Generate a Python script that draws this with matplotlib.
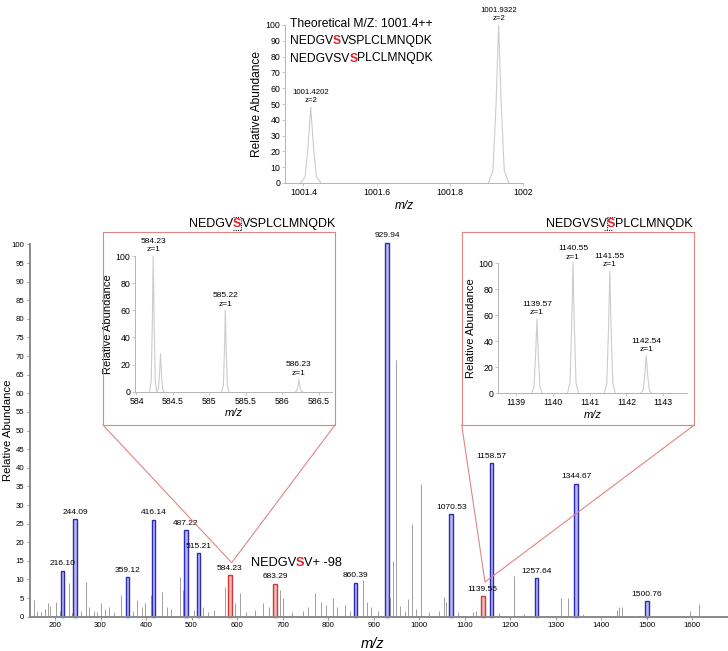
import matplotlib
matplotlib.use("Agg")
import matplotlib.pyplot as plt
from matplotlib.transforms import IdentityTransform
from matplotlib.lines import Line2D

plt.rcParams['font.family'] = ['Liberation Sans', 'DejaVu Sans']

W, H = 728, 651

# ---------------- data ----------------
blue_mz = [216.10, 244.09, 359.12, 416.14, 487.22, 515.21, 860.39, 929.94,
           1070.53, 1158.57, 1257.64, 1344.67, 1500.76]
blue_int = [12.3, 26.2, 10.6, 26.0, 23.2, 17.1, 9.1, 100.5,
            27.5, 41.2, 10.3, 35.7, 4.1]
red_mz = [584.23, 683.29, 1139.55]
red_int = [11.1, 8.9, 5.5]

noise_mz = [153, 160, 170, 178, 185, 190, 203, 212, 231, 238, 258, 267.5, 275, 285,
            292, 302, 310, 318, 330, 346, 357, 372, 379, 390, 398, 410, 434, 445,
            455, 474, 482, 492, 505, 525, 535, 550, 573, 588, 595, 606, 620, 639,
            657, 670, 680, 694, 700, 720, 745, 756, 771, 785, 795, 811, 820, 838,
            848, 877, 885, 895, 910, 924.6, 935, 943, 950, 958, 968, 976, 985, 992,
            1003.8, 1021, 1043, 1055, 1060, 1085, 1118, 1125, 1175, 1208, 1230,
            1311, 1327, 1360, 1434, 1440, 1446, 1595, 1614]
noise_int = [4.5, 1.5, 1.2, 2.0, 3.6, 3.0, 4.0, 1.5, 9.0, 1.0, 1.5, 9.4, 2.7, 1.5,
             1.2, 3.6, 2.0, 2.7, 1.2, 5.8, 2.7, 1.5, 4.5, 2.7, 3.6, 5.8, 6.7, 2.7,
             2.2, 10.7, 7.2, 2.7, 1.8, 2.7, 1.3, 1.8, 8.0, 2.0, 3.6, 6.3, 1.3, 1.8,
             3.6, 2.7, 1.5, 7.2, 4.9, 1.2, 1.5, 2.7, 6.3, 4.0, 3.1, 4.9, 2.7, 3.1,
             1.5, 9.9, 4.0, 2.7, 1.5, 12.0, 5.0, 15.0, 69.0, 3.0, 1.5, 4.7, 25.0, 2.0,
             35.6, 1.2, 1.5, 5.3, 4.0, 1.2, 1.3, 1.6, 1.0, 11.0, 0.8,
             4.9, 4.9, 0.8, 1.8, 2.7, 2.7, 1.6, 3.4]

main_xticks = list(range(200, 1700, 100))
main_yticks = list(range(0, 105, 5))

# top inset (precursor)
prec_mz = [1001.4202, 1001.9322]
prec_int = [48, 100]
prec_labels = ["1001.4202\nz=2", "1001.9322\nz=2"]
prec_xticks = [1001.4, 1001.6, 1001.8, 1002.0]
prec_xticklabels = ["1001.4", "1001.6", "1001.8", "1002"]

# left inset
l_mz = [584.23, 584.33, 585.22, 586.23]
l_int = [100, 28, 60, 9]
l_labels = ["584.23\nz=1", None, "585.22\nz=1", "586.23\nz=1"]
l_xticks = [584, 584.5, 585, 585.5, 586, 586.5]
l_xticklabels = ["584", "584.5", "585", "585.5", "586", "586.5"]

# right inset
r_mz = [1139.57, 1140.55, 1141.55, 1142.54]
r_int = [57, 100, 94, 29]
r_labels = ["1139.57\nz=1", "1140.55\nz=1", "1141.55\nz=1", "1142.54\nz=1"]
r_xticks = [1139, 1140, 1141, 1142, 1143]
r_xticklabels = ["1139", "1140", "1141", "1142", "1143"]

# ---------------- styles ----------------
BLUE_E, BLUE_F = '#2b2bb3', '#b8b8f0'
RED_E, RED_F = '#cc3a3a', '#f2b8b8'
GREY = '#8f8f8f'
BOXRED = '#e08585'
SRED = '#e3202a'


def fr(x0, y0, x1, y1):
    """pixel box (top-left origin) -> figure fraction rect"""
    return [x0 / W, 1 - y1 / H, (x1 - x0) / W, (y1 - y0) / H]


fig = plt.figure(figsize=(W / 100, H / 100), dpi=100)
renderer = fig.canvas.get_renderer()

# ---------------- main spectrum ----------------
ax = fig.add_axes(fr(30, 244.4, 728.7, 616.7))
ax.vlines(noise_mz, 0, noise_int, color=GREY, lw=0.6, zorder=1)
ax.bar(blue_mz, blue_int, width=8, color=BLUE_F, edgecolor=BLUE_E, lw=1.0,
       zorder=2, clip_on=False)
ax.bar(red_mz, red_int, width=8, color=RED_F, edgecolor=RED_E, lw=1.0,
       zorder=2, clip_on=False)
for m, v in zip(blue_mz + red_mz, blue_int + red_int):
    ax.annotate(f"{m:.2f}", (m, v), xytext=(0, 2.5), textcoords='offset points',
                ha='center', va='bottom', fontsize=6, annotation_clip=False)
ax.set_xlim(145, 1680)
ax.set_ylim(0, 100)
ax.set_xticks(main_xticks)
ax.set_yticks(main_yticks)
ax.tick_params(axis='both', labelsize=5.6, length=2, width=0.6, color='#888888',
               pad=2)
for s in ['top', 'right']:
    ax.spines[s].set_visible(False)
for s in ['left', 'bottom']:
    ax.spines[s].set_color('#8a8a8a')
    ax.spines[s].set_linewidth(1.4)
ax.set_xlabel('m/z', fontsize=10.5, style='italic')
ax.xaxis.set_label_coords((373 - 30) / 698.7, (616.7 - 637.5) / 372.3)
ax.set_ylabel('Relative Abundance', fontsize=8.2)
ax.yaxis.set_label_coords((13.5 - 30) / 698.7, 0.5)
ax.patch.set_alpha(0)


def style_inset(a, xt, xtl, yt, fs_tick=6.3, fs_lab=8):
    a.set_xticks(xt)
    a.set_xticklabels(xtl)
    a.set_yticks(yt)
    a.set_ylim(0, 100)
    a.tick_params(axis='both', labelsize=fs_tick, length=2, width=0.5,
                  color='#b0b0b0', pad=1.5)
    for s in ['top', 'right']:
        a.spines[s].set_visible(False)
    for s in ['left', 'bottom']:
        a.spines[s].set_color('#b5b5b5')
        a.spines[s].set_linewidth(0.7)
    a.set_xlabel('m/z', fontsize=fs_lab, style='italic', labelpad=2)
    a.set_ylabel('Relative Abundance', fontsize=fs_lab, labelpad=2)
    a.patch.set_alpha(0)


def draw_profiles(a, mzs, ints, labels, hw, fs=6):
    for m, v, lab in zip(mzs, ints, labels):
        a.plot([m - hw, m - hw * 0.55, m - hw * 0.25, m, m + hw * 0.25,
                m + hw * 0.55, m + hw],
               [0, v * 0.08, v * 0.5, v, v * 0.5, v * 0.08, 0],
               color='#cccccc', lw=0.8, clip_on=False)
        if lab:
            a.annotate(lab, (m, v), xytext=(0, 2), textcoords='offset points',
                       ha='center', va='bottom', fontsize=fs, linespacing=1.25,
                       annotation_clip=False)


# ---------------- top inset ----------------
axt = fig.add_axes(fr(285, 25, 523.5, 183))
draw_profiles(axt, prec_mz, prec_int, prec_labels, 0.028, fs=5.6)
axt.set_xlim(1001.35, 1002.0)
style_inset(axt, prec_xticks, prec_xticklabels, list(range(0, 101, 10)),
            fs_tick=6.3, fs_lab=8.6)

# ---------------- left inset ----------------
axl = fig.add_axes(fr(135, 256, 331.7, 391.7))
draw_profiles(axl, l_mz, l_int, l_labels, 0.05)
axl.set_xlim(583.98, 586.68)
style_inset(axl, l_xticks, l_xticklabels, list(range(0, 101, 20)), fs_lab=8)

# ---------------- right inset ----------------
axr = fig.add_axes(fr(498.3, 263.3, 686.7, 393.3))
draw_profiles(axr, r_mz, r_int, r_labels, 0.15)
axr.set_xlim(1138.52, 1143.64)
style_inset(axr, r_xticks, r_xticklabels, list(range(0, 101, 20)), fs_lab=8)


# ---------------- zoom boxes & connectors (pixel geometry) ----------------
def px_line(xs, ys):
    fig.add_artist(Line2D([x / W for x in xs], [1 - y / H for y in ys],
                          transform=fig.transFigure, color=BOXRED, lw=0.8))


for (x0, y0, x1, y1, tx, ty) in [(103, 232, 335, 425, 231.7, 562.7),
                                 (461.7, 232, 694.3, 425, 485, 582)]:
    px_line([x0, x1, x1, x0, x0], [y0, y0, y1, y1, y0])
    px_line([x0, tx, x1], [y1, ty, y1])


# ---------------- rich text helper ----------------
def _w(s, weight, size):
    t = fig.text(0, 0, s, fontweight=weight, fontsize=size,
                 transform=IdentityTransform())
    w = t.get_window_extent(renderer).width
    t.remove()
    return w


def advance(s, weight, size):
    return _w(s + '|', weight, size) - _w('|', weight, size)


def rich_text(x_px, y_px, parts, size, align='left'):
    adv = [advance(s, wt, size) for s, c, wt in parts]
    x = x_px if align == 'left' else x_px - sum(adv)
    yd = H - y_px
    texts = []
    for (s, color, weight), a in zip(parts, adv):
        t = fig.text(x, yd, s, color=color, fontweight=weight, fontsize=size,
                     transform=IdentityTransform(), ha='left', va='baseline')
        texts.append((t, x, x + a))
        x += a
    return texts


def dotted(xs, ys):
    fig.add_artist(Line2D(xs, ys, transform=IdentityTransform(), color='#222222',
                          lw=0.8, ls=(0, (1, 1))))


rich_text(290, 26.7, [("Theoretical M/Z: 1001.4++", 'black', 'normal')], 8.7)
rich_text(290, 43.8, [("NEDGV", 'black', 'normal'), ("S", SRED, 'bold'),
                      ("VSPLCLMNQDK", 'black', 'normal')], 8.7)
rich_text(290, 61.5, [("NEDGVSV", 'black', 'normal'), ("S", SRED, 'bold'),
                      ("PLCLMNQDK", 'black', 'normal')], 8.7)

yb, yt_ = H - 229.5, H - 216.5

# left inset title with dotted cleavage box
tl = rich_text(335.7, 227, [("NEDGV", 'black', 'normal'), ("S", SRED, 'bold'),
                            ("VSPLCLMNQDK", 'black', 'normal')], 9, align='right')
_, sx0, sx1 = tl[1]
dotted([sx0, sx1], [yt_, yt_])
dotted([sx0, sx1], [yb, yb])
dotted([sx1, sx1], [yb, yt_])

# right inset title with dotted cleavage box
tr = rich_text(692.5, 227, [("NEDGVSV", 'black', 'normal'), ("S", SRED, 'bold'),
                            ("PLCLMNQDK", 'black', 'normal')], 9, align='right')
_, sx0, sx1 = tr[1]
dotted([sx0, sx1], [yt_, yt_])
dotted([sx0 - 3, sx1 - 2], [yb, yb])
dotted([sx0, sx0], [yb, yt_])

# neutral-loss annotation
rich_text(250.7, 566, [("NEDGV", 'black', 'normal'), ("S", SRED, 'bold'),
                       ("V+ -98", 'black', 'normal')], 9.2)

fig.savefig('out.png', dpi=100)
